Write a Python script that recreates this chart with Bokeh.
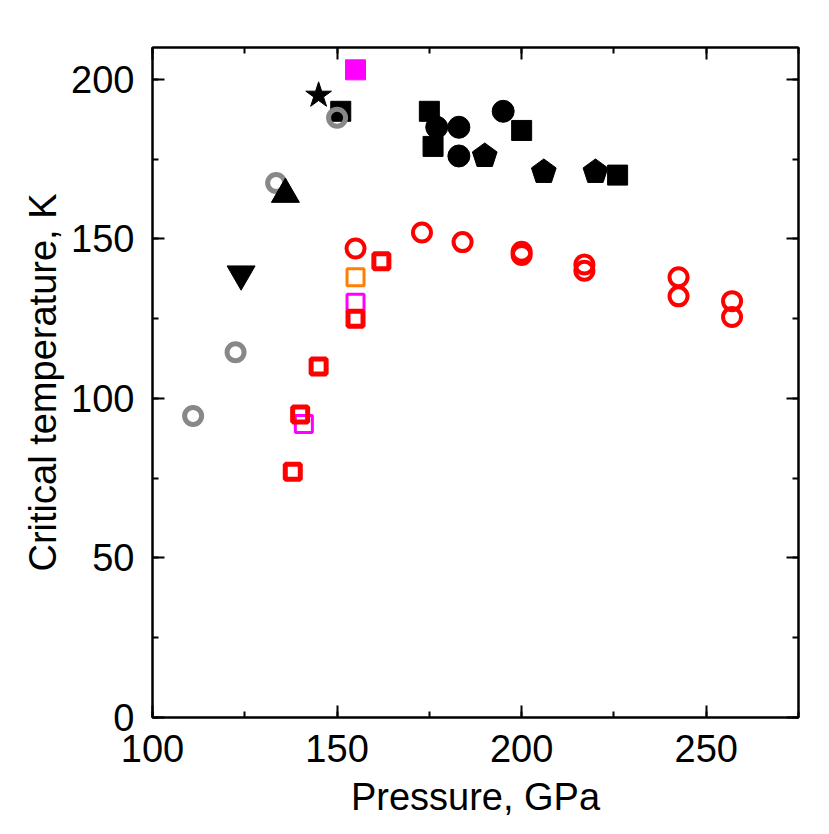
from bokeh.plotting import figure
from bokeh.models import LinearAxis, SingleIntervalTicker, Range1d, CustomJSTickFormatter
from bokeh.embed import file_html
from bokeh.resources import INLINE

# ---- data (Pressure GPa, Tc K) ----
gray_circ_x = [111, 122.5, 133.5, 150]
gray_circ_y = [94.5, 114.5, 167.5, 188]

red_sq_x = [138, 140, 145, 155, 162]
red_sq_y = [77, 95, 110, 125, 143]

mag_open_sq_x = [141, 155]
mag_open_sq_y = [92, 130]

orange_sq_x = [155]
orange_sq_y = [138]

red_circ_x = [155, 173, 184, 200, 200, 217, 217, 242.5, 242.5, 257, 257]
red_circ_y = [147, 152, 149, 146, 145, 142, 140, 138, 132, 130.5, 125.5]

blk_sq_x = [151, 175, 176, 200, 226]
blk_sq_y = [190, 190, 179, 184, 170]

blk_circ_x = [177, 183, 183, 195]
blk_circ_y = [185, 185, 176, 190]

blk_pent_x = [190, 206, 220]
blk_pent_y = [176, 171, 171]

tri_x = [136]
tri_y = [164]

inv_tri_x = [124]
inv_tri_y = [139]

star_x = [145]
star_y = [195]

mag_fill_sq_x = [155]
mag_fill_sq_y = [203]

x_label = "Pressure, GPa"
y_label = "Critical temperature, K"

FONT = "Liberation Sans"
FS = "38px"

p = figure(width=829, height=834, output_backend="svg", toolbar_location=None,
           x_range=Range1d(100, 275), y_range=Range1d(0, 210),
           min_border_left=152, min_border_right=31, min_border_top=47,
           min_border_bottom=117, x_axis_label=x_label, y_axis_label=y_label)

p.grid.visible = False
p.outline_line_color = "black"
p.outline_line_width = 2
p.background_fill_color = "white"
p.border_fill_color = "white"

def style_axis(ax, show_labels=True):
    ax.ticker = SingleIntervalTicker(interval=50, num_minor_ticks=2)
    ax.axis_line_color = "black"
    ax.axis_line_width = 2
    ax.major_tick_in = 12
    ax.major_tick_out = 0
    ax.minor_tick_in = 6
    ax.minor_tick_out = 0
    ax.major_tick_line_width = 2
    ax.minor_tick_line_width = 2
    ax.major_tick_line_color = "black"
    ax.minor_tick_line_color = "black"
    if show_labels:
        ax.major_label_text_font = FONT
        ax.major_label_text_font_size = FS
        ax.major_label_text_color = "black"
        ax.axis_label_text_font = FONT
        ax.axis_label_text_font_size = FS
        ax.axis_label_text_font_style = "normal"
        ax.axis_label_text_color = "black"
    else:
        ax.formatter = CustomJSTickFormatter(code="return ''")

style_axis(p.xaxis[0])
style_axis(p.yaxis[0])
p.xaxis[0].major_label_standoff = 17
p.yaxis[0].major_label_standoff = 18
p.xaxis[0].axis_label_standoff = 11
p.yaxis[0].axis_label_standoff = 4

top_ax = LinearAxis()
style_axis(top_ax, show_labels=False)
p.add_layout(top_ax, "above")
right_ax = LinearAxis()
style_axis(right_ax, show_labels=False)
p.add_layout(right_ax, "right")

# ---- marks ----
p.scatter(blk_sq_x, blk_sq_y, marker="square", size=20, fill_color="black", line_color="black")
p.scatter(gray_circ_x, gray_circ_y, marker="circle", size=17, fill_color=None,
          line_color="#888888", line_width=5)
p.scatter(blk_circ_x, blk_circ_y, marker="circle", size=22, fill_color="black", line_color="black")
p.ngon(x=blk_pent_x, y=blk_pent_y, radius=13, radius_units="screen", n=5,
       fill_color="black", line_color="black")
p.scatter(tri_x, tri_y, marker="triangle", size=28, fill_color="black", line_color="black",
          line_join="round")
p.scatter(inv_tri_x, inv_tri_y, marker="inverted_triangle", size=28, fill_color="black",
          line_color="black", line_join="round")
p.scatter(star_x, star_y, marker="star", size=27, fill_color="black", line_color="black")
p.scatter(mag_fill_sq_x, mag_fill_sq_y, marker="square", size=20, fill_color="#ff00ff",
          line_color="#ff00ff")
p.scatter(red_circ_x, red_circ_y, marker="circle", size=18, fill_color=None,
          line_color="#ff0000", line_width=4)
p.scatter(orange_sq_x, orange_sq_y, marker="square", size=17, fill_color=None,
          line_color="#ff8000", line_width=3)
p.scatter(mag_open_sq_x, mag_open_sq_y, marker="square", size=17, fill_color=None,
          line_color="#ff00ff", line_width=3)
p.scatter(red_sq_x, red_sq_y, marker="square", size=15, fill_color=None,
          line_color="#ff0000", line_width=5)

open("out.html", "w").write(file_html(p, INLINE))
